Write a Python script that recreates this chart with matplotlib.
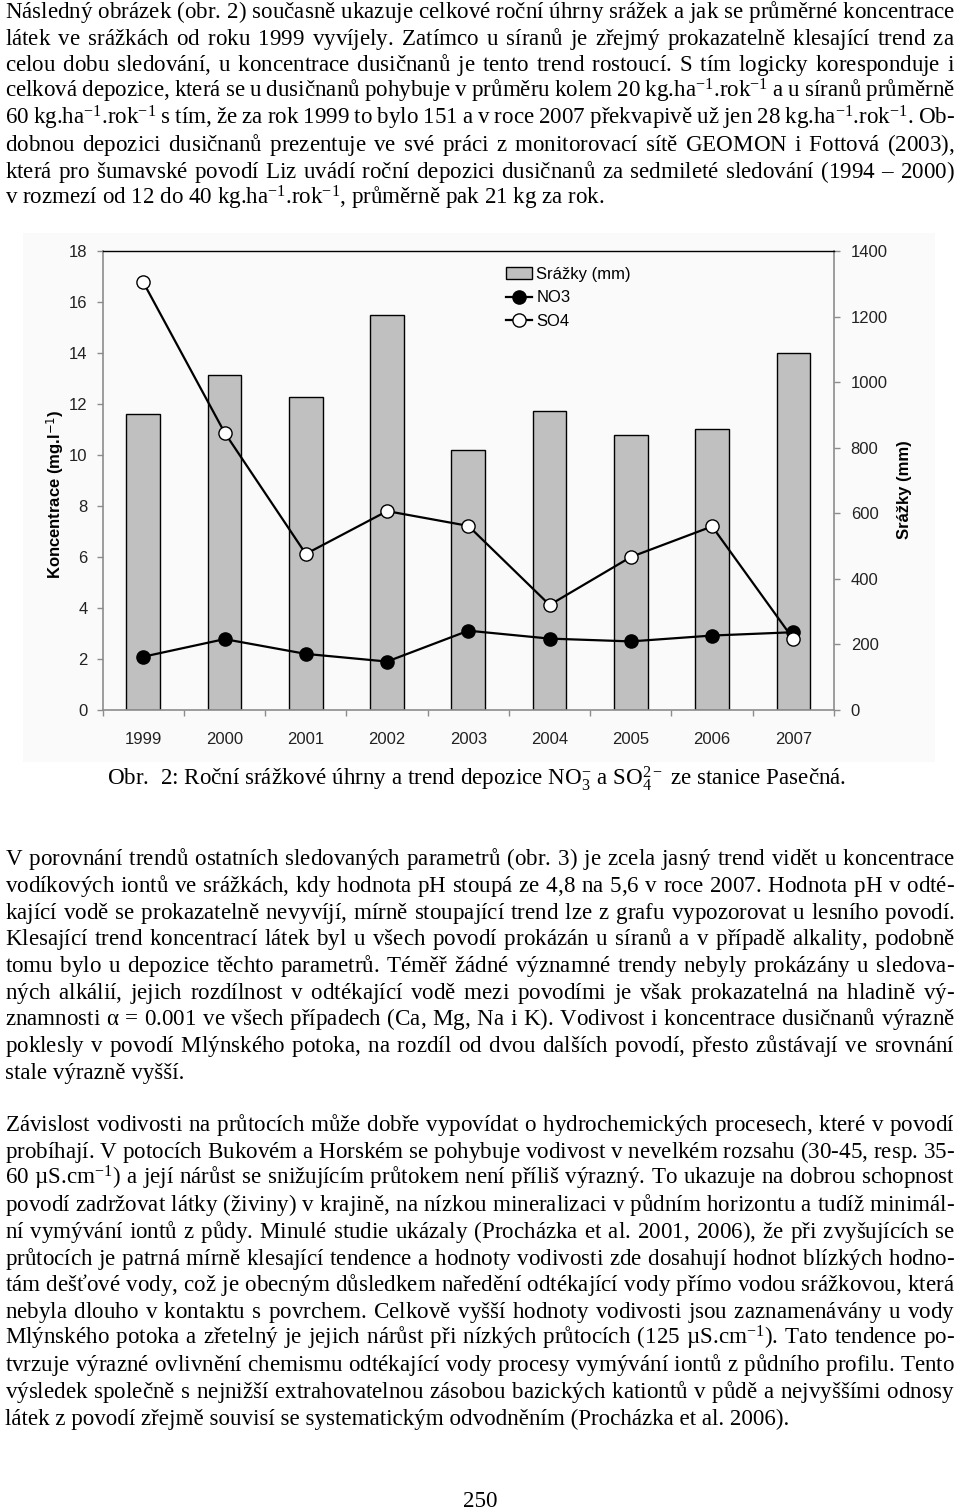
import numpy as np
import matplotlib
matplotlib.use('Agg')
import matplotlib.pyplot as plt
from matplotlib.patches import Rectangle

W, H = 960, 1509

# data
years = ['1999', '2000', '2001', '2002', '2003', '2004', '2005', '2006', '2007']
srazky = [902, 1022, 954, 1205, 794, 912, 838, 856, 1090]
no3 = [2.09, 2.78, 2.2, 1.9, 3.11, 2.8, 2.69, 2.92, 3.05]
so4 = [16.77, 10.88, 6.12, 7.8, 7.22, 4.12, 6.0, 7.2, 2.78]

left_ticks = list(range(0, 19, 2))
right_ticks = list(range(0, 1401, 200))

# page text
par1 = [
    "Následný obrázek (obr. 2) současně ukazuje celkové roční úhrny srážek a jak se průměrné koncentrace",
    "látek ve srážkách od roku 1999 vyvíjely. Zatímco u síranů je zřejmý prokazatelně klesající trend za",
    "celou dobu sledování, u koncentrace dusičnanů je tento trend rostoucí. S tím logicky koresponduje i",
    "celková depozice, která se u dusičnanů pohybuje v průměru kolem 20 kg.ha$^{-1}$.rok$^{-1}$ a u síranů průměrně",
    "60 kg.ha$^{-1}$.rok$^{-1}$ s tím, že za rok 1999 to bylo 151 a v roce 2007 překvapivě už jen 28 kg.ha$^{-1}$.rok$^{-1}$. Ob-",
    "dobnou depozici dusičnanů prezentuje ve své práci z monitorovací sítě GEOMON i Fottová (2003),",
    "která pro šumavské povodí Liz uvádí roční depozici dusičnanů za sedmileté sledování (1994 – 2000)",
    "v rozmezí od 12 do 40 kg.ha$^{-1}$.rok$^{-1}$, průměrně pak 21 kg za rok.",
]
caption = "Obr.  2: Roční srážkové úhrny a trend depozice NO$_3^{-}$ a SO$_4^{2-}$ ze stanice Pasečná."
par2 = [
    "V porovnání trendů ostatních sledovaných parametrů (obr. 3) je zcela jasný trend vidět u koncentrace",
    "vodíkových iontů ve srážkách, kdy hodnota pH stoupá ze 4,8 na 5,6 v roce 2007. Hodnota pH v odté-",
    "kající vodě se prokazatelně nevyvíjí, mírně stoupající trend lze z grafu vypozorovat u lesního povodí.",
    "Klesající trend koncentrací látek byl u všech povodí prokázán u síranů a v případě alkality, podobně",
    "tomu bylo u depozice těchto parametrů. Téměř žádné významné trendy nebyly prokázány u sledova-",
    "ných alkálií, jejich rozdílnost v odtékající vodě mezi povodími je však prokazatelná na hladině vý-",
    "znamnosti α = 0.001 ve všech případech (Ca, Mg, Na i K). Vodivost i koncentrace dusičnanů výrazně",
    "poklesly v povodí Mlýnského potoka, na rozdíl od dvou dalších povodí, přesto zůstávají ve srovnání",
    "stale výrazně vyšší.",
]
par3 = [
    "Závislost vodivosti na průtocích může dobře vypovídat o hydrochemických procesech, které v povodí",
    "probíhají. V potocích Bukovém a Horském se pohybuje vodivost v nevelkém rozsahu (30-45, resp. 35-",
    "60 µS.cm$^{-1}$) a její nárůst se snižujícím průtokem není příliš výrazný. To ukazuje na dobrou schopnost",
    "povodí zadržovat látky (živiny) v krajině, na nízkou mineralizaci v půdním horizontu a tudíž minimál-",
    "ní vymývání iontů z půdy. Minulé studie ukázaly (Procházka et al. 2001, 2006), že při zvyšujících se",
    "průtocích je patrná mírně klesající tendence a hodnoty vodivosti zde dosahují hodnot blízkých hodno-",
    "tám dešťové vody, což je obecným důsledkem naředění odtékající vody přímo vodou srážkovou, která",
    "nebyla dlouho v kontaktu s povrchem. Celkově vyšší hodnoty vodivosti jsou zaznamenávány u vody",
    "Mlýnského potoka a zřetelný je jejich nárůst při nízkých průtocích (125 µS.cm$^{-1}$). Tato tendence po-",
    "tvrzuje výrazné ovlivnění chemismu odtékající vody procesy vymývání iontů z půdního profilu. Tento",
    "výsledek společně s nejnižší extrahovatelnou zásobou bazických kationtů v půdě a nejvyššími odnosy",
    "látek z povodí zřejmě souvisí se systematickým odvodněním (Procházka et al. 2006).",
]

plt.rcParams['mathtext.fontset'] = 'custom'
plt.rcParams['mathtext.rm'] = 'Liberation Serif'
plt.rcParams['mathtext.it'] = 'Liberation Serif:italic'
plt.rcParams['mathtext.bf'] = 'Liberation Serif:bold'

FS = 16.6

fig = plt.figure(figsize=(W / 100, H / 100), dpi=100)
renderer = fig.canvas.get_renderer()

serif = dict(family='Liberation Serif', fontsize=FS, color='black', va='baseline', ha='left')


def spaced(words, gap):
    s = ('$\\hspace{%.4f}$' % gap).join(words)
    return s.replace('$$', '')


def justify(lines, first_base, step, x0=5, x1=955):
    for i, line in enumerate(lines):
        y = 1 - (first_base + i * step) / H
        if i == len(lines) - 1:
            fig.text(x0 / W, y, line, **serif)
            continue
        words = line.split(' ')
        n = len(words) - 1
        t = fig.text(x0 / W, y, spaced(words, 0.0), **serif)
        w0 = t.get_window_extent(renderer).width
        t.set_text(spaced(words, 1.0))
        unit = (t.get_window_extent(renderer).width - w0) / n
        gap = max((x1 - x0 - w0) / n, 2.5) / unit
        t.set_text(spaced(words, gap))


justify(par1, 18, 26.6)
justify(par2, 865, 26.75)
justify(par3, 1131, 26.7)
fig.text(107 / W, 1 - 785 / H, caption, **serif)
fig.text(480 / W, 1 - 1507 / H, '250', **dict(serif, ha='center'))

# faint background of the embedded chart picture
fig.patches.append(Rectangle((23 / W, 1 - 762 / H), (935 - 23) / W, (762 - 233) / H,
                             transform=fig.transFigure, facecolor='#fafafa', edgecolor='none',
                             zorder=-10))

# chart
ax = fig.add_axes([102.7 / W, 1 - 710 / H, 731.3 / W, 459 / H])
ax2 = ax.twinx()
ax.set_zorder(ax2.get_zorder() + 1)
ax.patch.set_visible(False)
ax2.patch.set_facecolor('white')

x = np.arange(len(years))
bars = ax2.bar(x, srazky, width=0.415, color='#c0c0c0', edgecolor='black', linewidth=1.0,
               label='Srážky (mm)')
l1, = ax.plot(x, no3, color='black', lw=1.6, marker='o', ms=9.5, mfc='black', mec='black',
              label='NO3')
l2, = ax.plot(x, so4, color='black', lw=1.6, marker='o', ms=9.5, mfc='white', mec='black',
              mew=1.0, label='SO4')

ax.set_xlim(-0.5, len(years) - 0.5)
ax.set_ylim(0, 18)
ax2.set_ylim(0, 1400)
ax.set_yticks(left_ticks)
ax2.set_yticks(right_ticks)
ax.set_xticks(x)
ax.set_xticklabels(years)
ax.set_xticks(np.arange(-0.5, len(years), 1.0), minor=True)

for lab in ax.get_xticklabels() + ax.get_yticklabels() + ax2.get_yticklabels():
    lab.set_fontfamily('Liberation Sans')
    lab.set_fontsize(12)
    lab.set_color('#222222')

gray = '#8c8c8c'
ax.tick_params(axis='x', which='major', length=0, pad=16)
ax.tick_params(axis='x', which='minor', length=4, color=gray, width=1)
ax.tick_params(axis='y', length=4, color=gray, width=1, pad=7)
ax2.tick_params(axis='y', length=4, color=gray, width=1, pad=8)

for s in ['left', 'bottom']:
    ax.spines[s].set_color(gray)
    ax.spines[s].set_linewidth(1.2)
ax.spines['top'].set_color('black')
ax.spines['top'].set_linewidth(1.0)
ax.spines['right'].set_visible(False)
for s in ['left', 'bottom', 'top']:
    ax2.spines[s].set_visible(False)
ax2.spines['right'].set_color(gray)
ax2.spines['right'].set_linewidth(1.2)

ax.set_ylabel('Koncentrace (mg.l$^{\\mathsf{-1}}$)', fontfamily='Liberation Sans', fontsize=12,
              fontweight='bold')
ax2.set_ylabel('Srážky (mm)', fontfamily='Liberation Sans', fontsize=12, fontweight='bold')
ax.yaxis.set_label_coords(-0.05, 0.47)
ax2.yaxis.set_label_coords(1.086, 0.48)

ax.legend([bars, l1, l2], ['Srážky (mm)', 'NO3', 'SO4'], loc='upper left',
          bbox_to_anchor=(0.551, 0.965), frameon=False, borderpad=0, borderaxespad=0,
          handlelength=1.6, handletextpad=0.25, labelspacing=0.5,
          prop=dict(family='Liberation Sans', size=12))

fig.savefig('out.png', dpi=100)
